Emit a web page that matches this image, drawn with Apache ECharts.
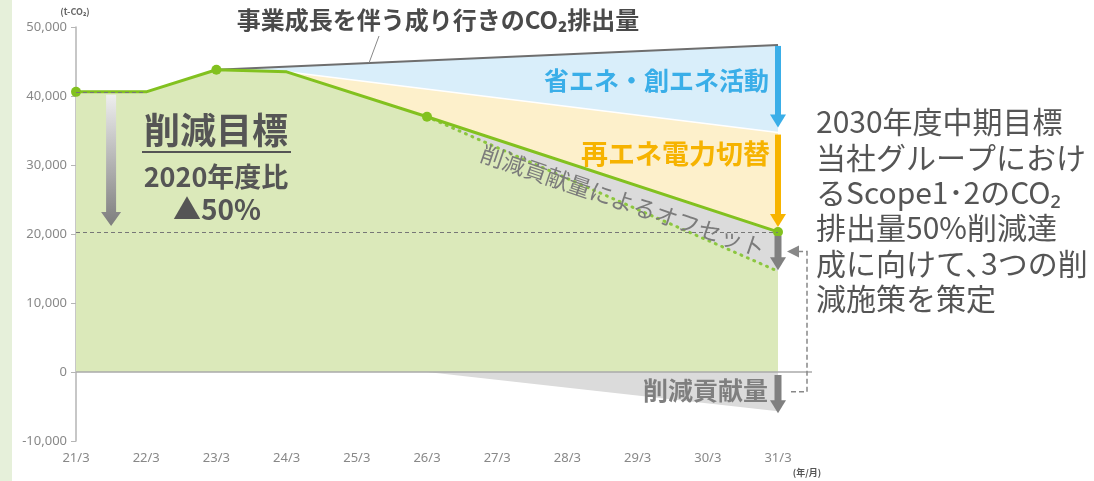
<!DOCTYPE html>
<html>
<head>
<meta charset="utf-8">
<script src="https://cdn.jsdelivr.net/npm/echarts@6/dist/echarts.min.js"></script>
<style>
html, body { margin: 0; padding: 0; background: #fff; }
#chart { width: 1094px; height: 481px; }
</style>
</head>
<body>
<div id="chart"></div>
<script>
// 年度末 (年/月)
const categories = ['21/3', '22/3', '23/3', '24/3', '25/3', '26/3', '27/3', '28/3', '29/3', '30/3', '31/3'];
// 実績・計画 (t-CO2)
const actual = [40600, 40600, 43800, 43500, null, 37000, null, null, null, null, 20300];
// 事業成長を伴う成り行き
const bau = [null, null, 43800, null, null, null, null, null, null, null, 47400];
// 省エネ・創エネ後
const savingEdge = [null, null, null, 43500, null, null, null, null, null, null, 34700];
// 削減貢献量によるオフセット後
const offsetLine = [null, null, null, null, null, 37000, null, null, null, null, 14600];
// 削減貢献量 (マイナス側)
const contribution = [null, null, null, null, null, 0, null, null, null, null, -5700];
const baseYear = 40600;
const target = 20300;
const dotIndex = [0, 2, 5, 10];

// 緑の面はオフセット後のラインまで
const base = actual.map((v, i) => (i <= 5 ? v : offsetLine[i]));

const FONT = '"Noto Sans CJK JP", "Noto Sans", sans-serif';
const chart = echarts.init(document.getElementById('chart'));

function area(data, color) {
  return {
    type: 'line', data: data, connectNulls: true, symbol: 'none',
    lineStyle: { opacity: 0 }, areaStyle: { color: color, opacity: 1 },
    silent: true
  };
}

chart.setOption({
  animation: false,
  grid: { left: 76, right: 316, top: 27, bottom: 40 },
  xAxis: {
    type: 'category', data: categories, boundaryGap: false,
    axisLine: { show: false }, axisTick: { show: false },
    axisLabel: { color: '#888', fontSize: 13, margin: 11, fontFamily: 'Noto Sans' },
    splitLine: { show: false }
  },
  yAxis: {
    type: 'value', min: -10000, max: 50000, interval: 10000,
    axisLine: { show: true, lineStyle: { color: '#b5b5b5', width: 1.5 } },
    axisTick: { show: true, length: 5, lineStyle: { color: '#b5b5b5' } },
    axisLabel: {
      color: '#888', fontSize: 13, margin: 9, fontFamily: 'Noto Sans',
      formatter: v => v.toLocaleString('en-US')
    },
    splitLine: { show: false }
  },
  series: [
    area(bau, '#d9eefa'),
    area(savingEdge, '#fdf0cb'),
    area(actual, '#dbdbdb'),
    area(base, '#dbe9ba'),
    area(contribution, '#dbdbdb'),
    {
      type: 'line', data: bau, connectNulls: true, symbol: 'none',
      lineStyle: { color: '#6e6e6e', width: 2 }
    },
    {
      type: 'line', data: savingEdge, connectNulls: true, symbol: 'none',
      lineStyle: { color: '#fff', width: 1.5 }
    },
    {
      type: 'line', data: offsetLine, connectNulls: true, symbol: 'none',
      lineStyle: { color: '#8cc63f', width: 3, type: [1, 6], cap: 'round' }
    },
    {
      type: 'line', data: actual, connectNulls: true,
      symbol: 'circle', showAllSymbol: true,
      symbolSize: (v, p) => (dotIndex.includes(p.dataIndex) ? 10 : 0),
      itemStyle: { color: '#82c11f' },
      lineStyle: { color: '#82c11f', width: 3 },
      markLine: {
        silent: true, symbol: 'none', label: { show: false },
        lineStyle: { color: '#777', type: [4, 3], width: 1 },
        data: [
          { yAxis: target },
          [{ coord: [0, baseYear] }, { coord: [1, baseYear] }]
        ]
      }
    }
  ]
});

const px = (i, v) => chart.convertToPixel({ gridIndex: 0 }, [i, v]);
const last = categories.length - 1;
const xEnd = px(last, 0)[0];
const y0 = px(last, 0)[1];

function arrow(y1, y2, color, shaft, head, headLen) {
  return [
    { type: 'rect', z: 100, shape: { x: xEnd - shaft / 2, y: y1, width: shaft, height: y2 - y1 - headLen + 1 }, style: { fill: color } },
    { type: 'polygon', z: 100, shape: { points: [[xEnd - head / 2, y2 - headLen], [xEnd + head / 2, y2 - headLen], [xEnd, y2]] }, style: { fill: color } }
  ];
}

function text(str, x, y, size, color, weight, align, extra) {
  return Object.assign({
    type: 'text', z: 100, x: x, y: y,
    style: {
      text: str, x: 0, y: 0, fill: color,
      font: (weight || 'normal') + ' ' + size + 'px ' + FONT,
      align: align || 'center', verticalAlign: 'middle',
      textAlign: align || 'center', textVerticalAlign: 'middle'
    }
  }, extra || {});
}

const yBau = px(last, bau[last])[1];
const ySave = px(last, savingEdge[last])[1];
const yAct = px(last, actual[last])[1];
const yOff = px(last, offsetLine[last])[1];
const yCon = px(last, contribution[last])[1];

// 左の目標矢印
const ax = (px(0, 0)[0] + px(1, 0)[0]) / 2;
const ay1 = px(0, baseYear)[1] + 3;
const ay2 = px(0, target)[1] - 6;
const bigArrow = {
  type: 'polygon', z: 100,
  shape: { points: [[ax - 5, ay1], [ax + 5, ay1], [ax + 5, ay2 - 14], [ax + 10, ay2 - 14], [ax, ay2], [ax - 10, ay2 - 14], [ax - 5, ay2 - 14]] },
  style: {
    fill: new echarts.graphic.LinearGradient(0, 0, 0, 1, [
      { offset: 0, color: '#eeeeee' },
      { offset: 1, color: '#7d7d7d' }
    ])
  }
};

// 右の点線ブラケット
const bTop = px(last, (actual[last] + offsetLine[last]) / 2)[1];
const bBot = px(last, contribution[last] / 2)[1];

const rightLines = ['2030年度中期目標', '当社グループにおけ', 'るScope1･2のCO₂', '排出量50%削減達', '成に向けて､3つの削', '減施策を策定'];

const elements = [
  { type: 'rect', z: 0, shape: { x: 0, y: 0, width: 12, height: 481 }, style: { fill: '#e6f0da' } },
  { type: 'line', z: 100, shape: { x1: px(0, 0)[0], y1: y0, x2: xEnd + 34, y2: y0 }, style: { stroke: '#aaa', lineWidth: 1.5 } },
  bigArrow,
  ...arrow(yBau + 1, ySave - 5, '#3aaee8', 6, 16, 13),
  ...arrow(ySave + 2, yAct - 5, '#f7b400', 6, 16, 13),
  ...arrow(yAct + 4, yOff - 1, '#808080', 7, 16, 13),
  ...arrow(y0 + 3, yCon + 2, '#808080', 7, 16, 13),
  { type: 'polyline', z: 100, shape: { points: [[xEnd + 13, bBot], [xEnd + 29, bBot], [xEnd + 29, bTop], [xEnd + 19, bTop]] }, style: { stroke: '#888', lineWidth: 1.5, lineDash: [5, 3], fill: null } },
  { type: 'polygon', z: 100, shape: { points: [[xEnd + 9, bTop], [xEnd + 21, bTop - 6], [xEnd + 21, bTop + 6]] }, style: { fill: '#888' } },
  { type: 'line', z: 100, shape: { x1: 379, y1: 36, x2: 369, y2: 63 }, style: { stroke: '#888', lineWidth: 1 } },
  text('事業成長を伴う成り行きのCO₂排出量', 438, 20, 24, '#4a4a4a', 'bold'),
  text('省エネ・創エネ活動', 769, 80, 25, '#3aaee8', 'bold', 'right'),
  text('再エネ電力切替', 770, 154, 27, '#f6b300', 'bold', 'right'),
  text('削減貢献量によるオフセット', 623, 201, 23, '#7b7b7b', 'normal', 'center', { rotation: -0.33 }),
  text('削減貢献量', 768, 390, 25, '#7f7f7f', 'bold', 'right'),
  text('削減目標', 216, 130, 36, '#555', 'bold'),
  { type: 'line', z: 100, shape: { x1: 142, y1: 152, x2: 291, y2: 152 }, style: { stroke: '#555', lineWidth: 2 } },
  text('2020年度比', 216, 177, 27, '#555', 'bold'),
  text('▲50%', 217, 209, 28, '#555', 'bold'),
  text('(t-CO₂)', 75, 12, 9, '#666', 'bold'),
  text('(年/月)', 807, 473, 9, '#555', 'bold')
];
rightLines.forEach((s, i) => {
  elements.push(text(s, 816, 122 + i * 35.3, 30, '#555', 'normal', 'left'));
});

chart.setOption({ graphic: { elements: elements } });
</script>
</body>
</html>
